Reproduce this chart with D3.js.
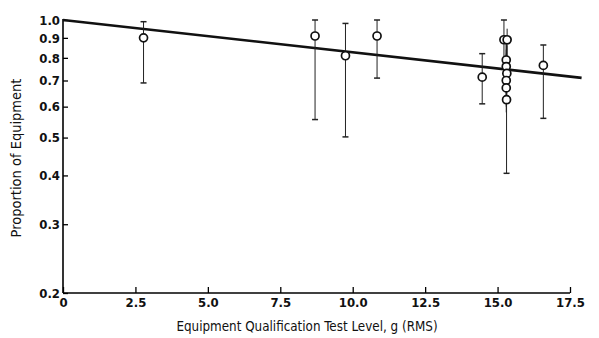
<!DOCTYPE html>
<html>
<head>
<meta charset="utf-8">
<script src="https://cdn.jsdelivr.net/npm/d3@7"></script>
<style>
  body { margin: 0; background: #fff; }
  text { font-family: "DejaVu Sans Condensed", "Liberation Sans Narrow", sans-serif; fill: #111; }
</style>
</head>
<body>
<svg id="chart"></svg>
<script>
// test level g(RMS), observed proportion, and error bar limits
var levels = [2.78, 8.7, 9.75, 10.84, 14.47, 15.22, 15.33, 15.3, 15.3, 15.32, 15.3, 15.3, 15.31, 16.58];
var proportions = [0.90, 0.91, 0.81, 0.91, 0.714, 0.89, 0.89, 0.79, 0.76, 0.73, 0.70, 0.67, 0.625, 0.765];
var upper = [0.99, 1.0, 0.98, 1.0, 0.82, 1.0, 0.95, 0.9, 0.88, 0.86, 0.84, 0.82, 0.8, 0.863];
var lower = [0.69, 0.556, 0.502, 0.71, 0.61, 0.7, 0.68, 0.66, 0.64, 0.62, 0.6, 0.58, 0.405, 0.56];

var xTicks = [0, 2.5, 5.0, 7.5, 10.0, 12.5, 15.0, 17.5];
var xTickLabels = ["0", "2.5", "5.0", "7.5", "10.0", "12.5", "15.0", "17.5"];
var yTicks = [0.2, 0.3, 0.4, 0.5, 0.6, 0.7, 0.8, 0.9, 1.0];
var yTickLabels = ["0.2", "0.3", "0.4", "0.5", "0.6", "0.7", "0.8", "0.9", "1.0"];

// fitted line endpoints
var fitX = [0, 17.9];
var fitY = [1.0, 0.711];

var width = 599, height = 338;
var margin = { top: 20, left: 63, bottom: 45, right: 29 };

var svg = d3.select("#chart")
            .attr("width", width)
            .attr("height", height);

var x = d3.scaleLinear()
          .domain([0, 17.5])
          .range([margin.left, 570]);
var y = d3.scaleLog()
          .domain([0.2, 1.0])
          .range([height - 45, margin.top]);

// axes
var xAxis = d3.axisBottom(x)
              .tickValues(xTicks)
              .tickSize(-6)
              .tickFormat(function(d, i) { return xTickLabels[i]; });
var gx = svg.append("g")
            .attr("transform", "translate(0," + (height - 45) + ")")
            .call(xAxis);
gx.select(".domain").attr("stroke-width", 1.6).attr("d", "M" + x(0) + ",0H" + x(17.5));
gx.selectAll(".tick line").attr("stroke-width", 1.3);
gx.selectAll(".tick text")
  .attr("y", 5)
  .style("font-size", "13px")
  .style("font-weight", "bold");

var yAxis = d3.axisLeft(y)
              .tickValues(yTicks)
              .tickSize(-5)
              .tickFormat(function(d, i) { return yTickLabels[i]; });
var gy = svg.append("g")
            .attr("transform", "translate(" + margin.left + ",0)")
            .call(yAxis);
gy.select(".domain").attr("stroke-width", 1.6).attr("d", "M0," + y(0.2) + "V" + (y(1.0) - 1));
gy.selectAll(".tick line").attr("stroke-width", 1.3);
gy.selectAll(".tick text")
  .attr("x", -3)
  .style("font-size", "13px")
  .style("font-weight", "bold");

// fitted line
svg.append("line")
   .attr("x1", x(fitX[0])).attr("y1", y(fitY[0]))
   .attr("x2", x(fitX[1])).attr("y2", y(fitY[1]))
   .attr("stroke", "#111")
   .attr("stroke-width", 2.6);

// error bars
var idx = d3.range(levels.length);
var bars = svg.append("g").attr("stroke", "#222").attr("stroke-width", 1);
bars.selectAll("line.v")
    .data(idx).enter()
    .append("line").attr("class", "v")
    .attr("x1", function(i) { return x(levels[i]); })
    .attr("x2", function(i) { return x(levels[i]); })
    .attr("y1", function(i) { return y(upper[i]); })
    .attr("y2", function(i) { return y(lower[i]); });
bars.selectAll("line.top")
    .data([0, 1, 2, 3, 4, 5, 13]).enter()
    .append("line").attr("class", "top")
    .attr("stroke-width", 1.5)
    .attr("x1", function(i) { return x(levels[i]) - 3; })
    .attr("x2", function(i) { return x(levels[i]) + 3; })
    .attr("y1", function(i) { return y(upper[i]); })
    .attr("y2", function(i) { return y(upper[i]); });
bars.selectAll("line.bot")
    .data([0, 1, 2, 3, 4, 12, 13]).enter()
    .append("line").attr("class", "bot")
    .attr("stroke-width", 1.5)
    .attr("x1", function(i) { return x(levels[i]) - 3; })
    .attr("x2", function(i) { return x(levels[i]) + 3; })
    .attr("y1", function(i) { return y(lower[i]); })
    .attr("y2", function(i) { return y(lower[i]); });

// points
svg.append("g")
   .selectAll("circle")
   .data(idx).enter()
   .append("circle")
   .attr("cx", function(i) { return x(levels[i]); })
   .attr("cy", function(i) { return y(proportions[i]); })
   .attr("r", 4)
   .attr("fill", "#fff")
   .attr("stroke", "#111")
   .attr("stroke-width", 1.7);

// axis titles
svg.append("text")
   .attr("x", 307)
   .attr("y", 331)
   .attr("text-anchor", "middle")
   .style("font-size", "13.3px")
   .text("Equipment Qualification Test Level, g (RMS)");
svg.append("text")
   .attr("transform", "translate(21,158) rotate(-90)")
   .attr("text-anchor", "middle")
   .style("font-size", "14.5px")
   .text("Proportion of Equipment");
</script>
</body>
</html>
